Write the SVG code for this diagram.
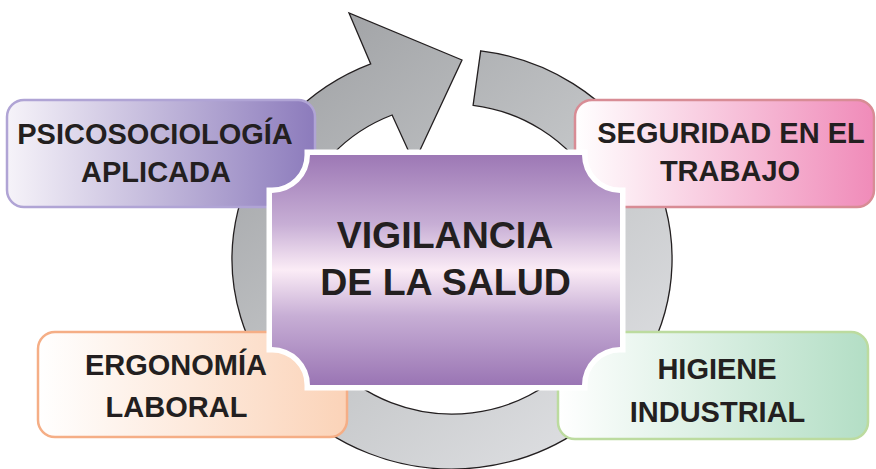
<svg xmlns="http://www.w3.org/2000/svg" width="876" height="469" viewBox="0 0 876 469">
<defs>
<linearGradient id="ringG" gradientUnits="userSpaceOnUse" x1="300" y1="40" x2="640" y2="460">
<stop offset="0" stop-color="#a1a3a6"/>
<stop offset="0.5" stop-color="#c4c6c8"/>
<stop offset="1" stop-color="#e2e3e6"/>
</linearGradient>
<linearGradient id="gPsi" x1="0" y1="0" x2="1" y2="0">
<stop offset="0" stop-color="#f6f3f9"/>
<stop offset="1" stop-color="#8c7bbc"/>
</linearGradient>
<linearGradient id="gSeg" x1="0" y1="0" x2="1" y2="0">
<stop offset="0" stop-color="#ffffff"/>
<stop offset="1" stop-color="#f08bb9"/>
</linearGradient>
<linearGradient id="gErg" x1="0" y1="0" x2="1" y2="0">
<stop offset="0" stop-color="#ffffff"/>
<stop offset="1" stop-color="#fbd3b8"/>
</linearGradient>
<linearGradient id="gHig" x1="0" y1="0" x2="1" y2="0">
<stop offset="0" stop-color="#ffffff"/>
<stop offset="1" stop-color="#b3dec5"/>
</linearGradient>
<linearGradient id="gCen" x1="0" y1="0" x2="0" y2="1">
<stop offset="0" stop-color="#9d78b5"/>
<stop offset="0.3" stop-color="#c7aed5"/>
<stop offset="0.5" stop-color="#fbecf6"/>
<stop offset="0.7" stop-color="#c7aed5"/>
<stop offset="1" stop-color="#9a75b4"/>
</linearGradient>
</defs>
<style>
text{font-family:"Liberation Sans",Arial,sans-serif;font-weight:bold;fill:#231f20;text-anchor:middle}
.side{font-size:29px}
.cen{font-size:37.5px}
.box{stroke-width:2.5}
</style>
<g id="cycle-arrow">
<path d="M480.7,50.8 A220,210 0 1,1 370.7,63.9 L349,13 L462,60 L414,163 L392.1,115 A162,155 0 1,0 473.1,105.3 Z" fill="url(#ringG)" stroke="#231f20" stroke-width="1.3" stroke-linejoin="miter"/>
</g>
<g id="psicosociologia">
<rect class="box" x="7" y="100" width="308" height="107" rx="17" fill="url(#gPsi)" stroke="#b0a4d5"/>
<text class="side" x="155" y="144">PSICOSOCIOLOGÍA</text>
<text class="side" x="156" y="182">APLICADA</text>
</g>
<g id="seguridad">
<rect class="box" x="575" y="100" width="299" height="107" rx="17" fill="url(#gSeg)" stroke="#d88c95"/>
<text class="side" x="731" y="143">SEGURIDAD EN EL</text>
<text class="side" x="730" y="181">TRABAJO</text>
</g>
<g id="ergonomia">
<rect class="box" x="38" y="332" width="309" height="105" rx="17" fill="url(#gErg)" stroke="#f5ae86"/>
<text class="side" x="176" y="375">ERGONOMÍA</text>
<text class="side" x="176.5" y="417">LABORAL</text>
</g>
<g id="higiene">
<rect class="box" x="558" y="332" width="310" height="107" rx="17" fill="url(#gHig)" stroke="#bcdb9f"/>
<text class="side" x="717" y="379">HIGIENE</text>
<text class="side" x="717.5" y="422">INDUSTRIAL</text>
</g>
<g id="vigilancia">
<path d="M310,155 L582,155 A38,38 0 0,0 620,193 L620,347 A38,38 0 0,0 582,385 L310,385 A38,38 0 0,0 272,347 L272,193 A38,38 0 0,0 310,155 Z" fill="url(#gCen)" stroke="#ffffff" stroke-width="11" paint-order="stroke"/>
<text class="cen" x="445" y="248">VIGILANCIA</text>
<text class="cen" x="445.5" y="295">DE LA SALUD</text>
</g>
</svg>
